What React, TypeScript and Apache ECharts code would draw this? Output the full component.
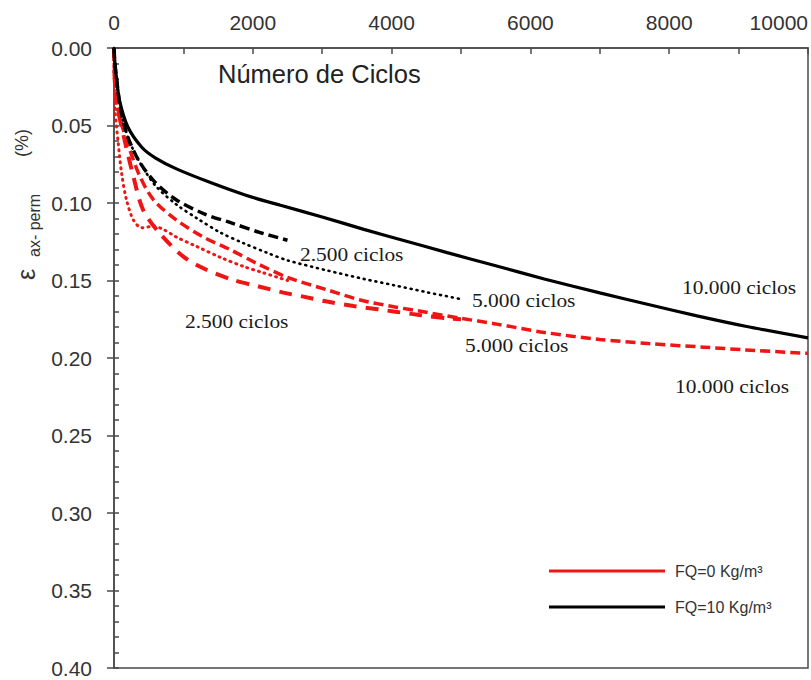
import React, { useEffect, useRef } from 'react';
import * as echarts from 'echarts';

// ---- Data (cycles N, permanent axial strain %) ----
const fq10_10000_N = [0, 10, 35, 80, 200, 400, 600, 900, 1400, 1900, 2400, 3000, 3600, 4200, 4800, 5500, 6200, 7000, 7700, 8400, 9100, 10000];
const fq10_10000_E = [0, 0.008, 0.019, 0.034, 0.051, 0.064, 0.071, 0.078, 0.087, 0.095, 0.1015, 0.109, 0.117, 0.1245, 0.132, 0.1405, 0.149, 0.158, 0.1655, 0.1728, 0.1795, 0.187];

const fq10_2500_N = [0, 10, 35, 80, 150, 230, 375, 600, 900, 1300, 1700, 2100, 2500];
const fq10_2500_E = [0, 0.008, 0.019, 0.035, 0.05, 0.061, 0.074, 0.087, 0.098, 0.107, 0.113, 0.119, 0.124];

const fq10_5000_N = [0, 10, 35, 80, 150, 230, 375, 600, 900, 1200, 1530, 1870, 2200, 2500, 3070, 3600, 4030, 4500, 5000];
const fq10_5000_E = [0, 0.008, 0.019, 0.035, 0.05, 0.061, 0.074, 0.089, 0.101, 0.11, 0.119, 0.126, 0.132, 0.137, 0.1435, 0.149, 0.153, 0.1575, 0.162];

const fq0_2500_N = [0, 5, 15, 60, 110, 180, 280, 400, 560, 710, 900, 1190, 1530, 1870, 2150, 2500];
const fq0_2500_E = [0, 0.02, 0.04, 0.061, 0.081, 0.098, 0.111, 0.116, 0.115, 0.117, 0.122, 0.128, 0.135, 0.141, 0.145, 0.15];

const fq0_5000_N = [0, 10, 40, 130, 280, 420, 660, 1000, 1340, 1720, 2100, 2440, 2730, 3070, 3450, 3800, 4030, 4400, 4800, 5000];
const fq0_5000_E = [0, 0.02, 0.035, 0.055, 0.083, 0.1045, 0.1196, 0.1346, 0.1432, 0.1497, 0.154, 0.1578, 0.1604, 0.1636, 0.1665, 0.1685, 0.17, 0.1722, 0.1744, 0.175];

const fq0_10000_N = [0, 10, 40, 90, 230, 375, 570, 900, 1290, 1670, 2060, 2500, 3070, 3550, 4030, 4500, 5000, 5500, 6200, 7000, 7700, 8500, 9100, 10000];
const fq0_10000_E = [0, 0.02, 0.035, 0.046, 0.066, 0.083, 0.098, 0.111, 0.122, 0.13, 0.139, 0.148, 0.156, 0.1626, 0.1669, 0.1705, 0.1744, 0.178, 0.1835, 0.188, 0.1907, 0.193, 0.1948, 0.197];

const legendNames = ['FQ=0 Kg/m³', 'FQ=10 Kg/m³'];
const cycleLabels = ['2.500 ciclos', '5.000 ciclos', '10.000 ciclos'];
const xTitle = 'Número de Ciclos';

const RED = '#f01515';
const BLACK = '#000000';
const AXIS = '#4a4a4a';

function pairs(n: number[], e: number[]) {
  return n.map((v, i) => [v, e[i]]);
}

function lineSeries(name: string, n: number[], e: number[], color: string, width: number, type: any, cap: string = 'butt') {
  return {
    name,
    type: 'line',
    data: pairs(n, e),
    showSymbol: false,
    symbol: 'none',
    smooth: 0.3,
    itemStyle: { color },
    lineStyle: { color, width, type, cap },
    emphasis: { disabled: true },
    z: 3,
  };
}

function annot(text: string, x: number, y: number) {
  return {
    type: 'text',
    x,
    y,
    scaleX: 1.19,
    style: {
      text,
      fontFamily: 'Liberation Serif',
      fontSize: 18,
      fill: '#1a1a1a',
      align: 'left',
      verticalAlign: 'middle',
      textAlign: 'left',
      textVerticalAlign: 'middle',
    },
    z: 10,
  };
}

function rotText(text: string, x: number, y: number, size: number) {
  return {
    type: 'text',
    x,
    y,
    rotation: Math.PI / 2,
    style: {
      text,
      fontFamily: 'Liberation Sans',
      fontSize: size,
      fill: '#333',
      align: 'left',
      verticalAlign: 'middle',
      textAlign: 'left',
      textVerticalAlign: 'middle',
    },
    z: 10,
  };
}

export default function App() {
  const ref = useRef<HTMLDivElement>(null);
  useEffect(() => {
    if (!ref.current) return;
    const chart = echarts.init(ref.current, null, { renderer: 'svg' });
    const option: any = {
      animation: false,
      backgroundColor: '#ffffff',
      grid: {
        left: 114,
        top: 48,
        width: 694,
        height: 620,
        show: true,
        borderColor: AXIS,
        borderWidth: 1.5,
        backgroundColor: 'transparent',
      },
      xAxis: {
        type: 'value',
        position: 'top',
        min: 0,
        max: 10000,
        interval: 2000,
        axisLine: { show: true, lineStyle: { color: AXIS, width: 1.5 } },
        axisTick: { show: true, inside: true, length: 6, lineStyle: { color: AXIS, width: 1.5 } },
        minorTick: { show: true, splitNumber: 2, length: 6, lineStyle: { color: AXIS, width: 1.5 } },
        axisLabel: {
          formatter: (v: number) => String(v),
          fontSize: 21,
          color: '#333',
          fontFamily: 'Liberation Sans',
          margin: 15,
          alignMaxLabel: 'right',
        },
        splitLine: { show: false },
      },
      yAxis: [
        {
          type: 'value',
          inverse: true,
          min: 0,
          max: 0.4,
          interval: 0.05,
          position: 'left',
          axisLine: { show: true, lineStyle: { color: AXIS, width: 1.5 } },
          axisTick: { show: true, inside: false, length: 7, lineStyle: { color: AXIS, width: 1.5 } },
          axisLabel: {
            formatter: (v: number) => v.toFixed(2),
            fontSize: 21,
            color: '#333',
            fontFamily: 'Liberation Sans',
            margin: 22,
          },
          splitLine: { show: false },
        },
        {
          type: 'value',
          inverse: true,
          min: 0,
          max: 0.4,
          interval: 0.01,
          position: 'left',
          axisLine: { show: false },
          axisTick: { show: true, inside: true, length: 5, lineStyle: { color: AXIS, width: 1.5 } },
          axisLabel: { show: false },
          splitLine: { show: false },
        },
      ],
      legend: {
        data: [
          { name: legendNames[0], icon: 'rect' },
          { name: legendNames[1], icon: 'rect' },
        ],
        orient: 'vertical',
        left: 544,
        top: 558,
        itemWidth: 116,
        itemHeight: 3,
        itemGap: 20,
        selectedMode: false,
        textStyle: { fontSize: 16, color: '#333', fontFamily: 'Liberation Sans', padding: [0, 0, 0, 5] },
      },
      series: [
        lineSeries(legendNames[0], fq0_2500_N, fq0_2500_E, RED, 3, [1, 5], 'round'),
        lineSeries(legendNames[0], fq0_5000_N, fq0_5000_E, RED, 4, [13, 9]),
        lineSeries(legendNames[0], fq0_10000_N, fq0_10000_E, RED, 3.5, [10, 5]),
        lineSeries(legendNames[1], fq10_5000_N, fq10_5000_E, BLACK, 2.6, [1, 5], 'round'),
        lineSeries(legendNames[1], fq10_2500_N, fq10_2500_E, BLACK, 3.5, [10, 5]),
        lineSeries(legendNames[1], fq10_10000_N, fq10_10000_E, BLACK, 3.2, 'solid'),
      ],
      graphic: [
        {
          type: 'text',
          x: 218,
          y: 74,
          style: {
            text: xTitle,
            fontFamily: 'Liberation Sans',
            fontSize: 25.5,
            fill: '#222',
            align: 'left',
            verticalAlign: 'middle',
            textAlign: 'left',
            textVerticalAlign: 'middle',
          },
          z: 10,
        },
        rotText('ε', 26, 280, 25),
        rotText('ax- perm', 34, 257, 16),
        rotText('(%)', 22, 157, 18),
        annot(cycleLabels[0], 300, 255),
        annot(cycleLabels[0], 185, 322),
        annot(cycleLabels[1], 472, 301),
        annot(cycleLabels[1], 465, 346),
        annot(cycleLabels[2], 682, 288),
        annot(cycleLabels[2], 675, 387),
      ],
    };
    chart.setOption(option);
    return () => chart.dispose();
  }, []);
  return <div ref={ref} style={{ position: 'fixed', left: 0, top: 0, width: 811, height: 680 }} />;
}
